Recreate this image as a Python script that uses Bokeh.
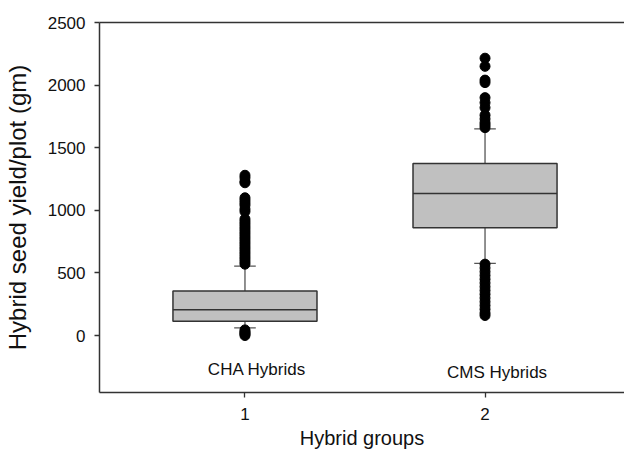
from bokeh.plotting import figure
from bokeh.models import LinearAxis, FixedTicker, Label, Range1d
from bokeh.embed import file_html
from bokeh.resources import INLINE

# ---- data ----
groups = [1, 2]
group_names = ["CHA Hybrids", "CMS Hybrids"]
q1 = [114, 860]
median = [206, 1135]
q3 = [355, 1373]
whisker_lo = [61, 577]
whisker_hi = [555, 1651]

cha_outliers = [1280, 1260, 1230, 1220, 1100, 1080, 1060, 1040, 1010, 990,
                930, 910, 890, 870, 850, 830, 810, 790, 770, 750, 730, 710,
                690, 670, 650, 630, 610, 590, 570,
                45, 30, 20, 10, 0]
cms_outliers = [2215, 2150, 2040, 2020, 1900, 1860, 1820, 1760, 1730, 1700,
                1680, 1660,
                570, 540, 510, 480, 450, 420, 390, 360, 330, 300, 270, 240,
                210, 180, 160]

y_ticks = [0, 500, 1000, 1500, 2000, 2500]
x_ticks = [1, 2]

FONT = "Liberation Sans"
LINE = "#333333"

p = figure(width=624, height=451, output_backend="svg", toolbar_location=None,
           x_range=Range1d(0.394, 2.581), y_range=Range1d(-455, 2500),
           min_border_left=97, min_border_top=22, min_border_bottom=56,
           min_border_right=0)
p.outline_line_color = None
p.grid.visible = False
p.background_fill_color = "white"

half = 0.3
cap = 0.045
left = [g - half for g in groups]
right = [g + half for g in groups]

# whiskers
p.segment(x0=groups, y0=q3, x1=groups, y1=whisker_hi, line_color="#555555", line_width=1.3)
p.segment(x0=groups, y0=q1, x1=groups, y1=whisker_lo, line_color="#555555", line_width=1.3)
p.segment(x0=[g - cap for g in groups], y0=whisker_hi, x1=[g + cap for g in groups], y1=whisker_hi,
          line_color="#555555", line_width=1.3)
p.segment(x0=[g - cap for g in groups], y0=whisker_lo, x1=[g + cap for g in groups], y1=whisker_lo,
          line_color="#555555", line_width=1.3)

# boxes
p.quad(left=left, right=right, bottom=q1, top=q3, fill_color="#c0c0c0",
       line_color=LINE, line_width=1.5)
p.segment(x0=left, y0=median, x1=right, y1=median, line_color=LINE, line_width=1.5)

# outliers
p.scatter(x=[groups[0]] * len(cha_outliers), y=cha_outliers, size=10,
          fill_color="black", line_color="black")
p.scatter(x=[groups[1]] * len(cms_outliers), y=cms_outliers, size=10,
          fill_color="black", line_color="black")

# group labels
for gx, gy, name in [(1.05, -270, group_names[0]), (2.05, -295, group_names[1])]:
    p.add_layout(Label(x=gx, y=gy, text=name, text_align="center", text_baseline="middle",
                       text_font=FONT, text_font_size="17px", text_color="#111111"))

# axes
p.yaxis.ticker = FixedTicker(ticks=y_ticks)
p.xaxis.ticker = FixedTicker(ticks=x_ticks)
for ax in (p.xaxis[0], p.yaxis[0]):
    ax.axis_line_color = LINE
    ax.axis_line_width = 1.5
    ax.major_tick_line_color = LINE
    ax.major_tick_line_width = 1.3
    ax.major_tick_out = 5
    ax.major_tick_in = 0
    ax.minor_tick_line_color = None
    ax.major_label_text_font = FONT
    ax.major_label_text_font_size = "17px"
    ax.major_label_text_color = "#111111"
    ax.axis_label_text_font = FONT
    ax.axis_label_text_font_style = "normal"
    ax.axis_label_text_color = "#111111"

p.yaxis.axis_label = "Hybrid seed yield/plot (gm)"
p.yaxis.axis_label_text_font_size = "24px"
p.yaxis.major_label_standoff = 9
p.yaxis.axis_label_standoff = 14
p.xaxis.axis_label = "Hybrid groups"
p.xaxis.axis_label_text_font_size = "20px"
p.xaxis.major_label_standoff = 10
p.xaxis.axis_label_standoff = 4

top_axis = LinearAxis(major_tick_line_color=None, minor_tick_line_color=None,
                      major_label_text_font_size="0px", axis_line_color=LINE,
                      axis_line_width=1.5, ticker=FixedTicker(ticks=[]))
p.add_layout(top_axis, "above")

open("out.html", "w").write(file_html(p, INLINE))
